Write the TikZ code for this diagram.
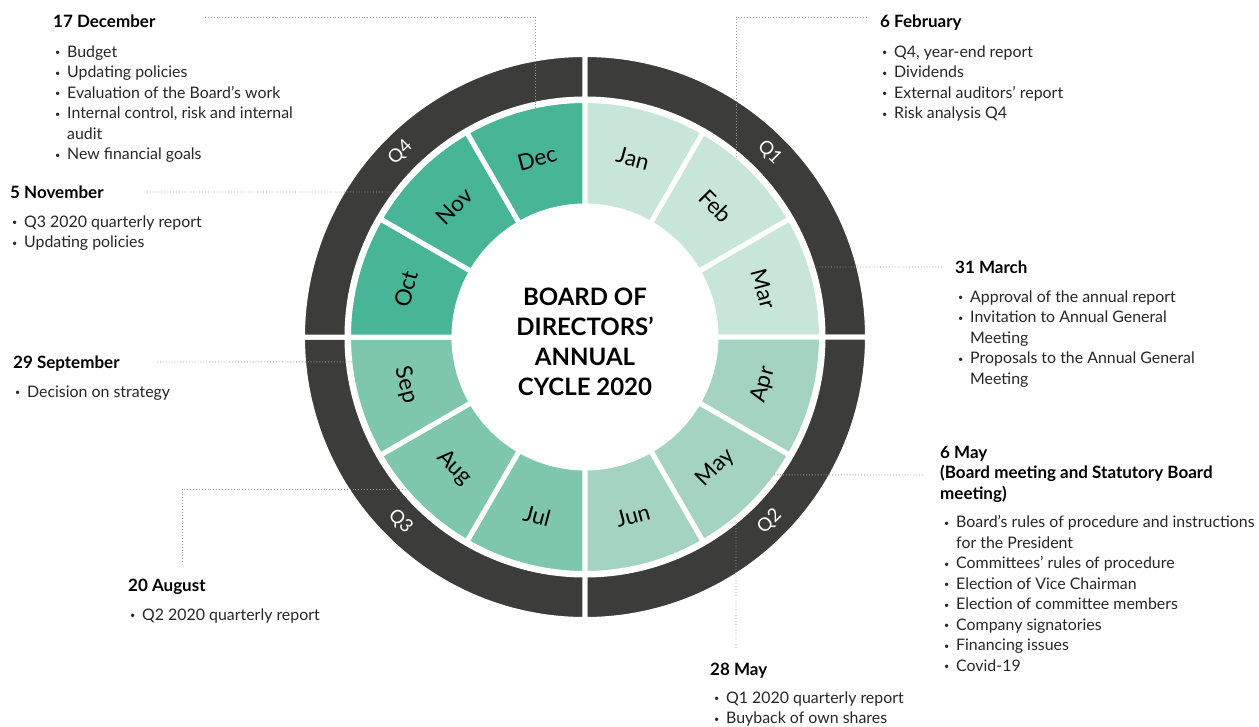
\documentclass[tikz,border=0pt]{standalone}
\usepackage{fontspec}
\setmainfont{Lato}
\usetikzlibrary{positioning}

\definecolor{ringdark}{HTML}{3C3C3B}
\definecolor{qone}{HTML}{C8E5D9}
\definecolor{qtwo}{HTML}{A4D4C1}
\definecolor{qthree}{HTML}{7EC6AC}
\definecolor{qfour}{HTML}{47B596}
\definecolor{leadgrey}{HTML}{9A9A9A}

\newcommand{\bul}{\makebox[12pt][l]{\raisebox{1.5pt}{\fontsize{9}{9}\selectfont•}}}
\newcommand{\cont}{\hspace*{12pt}}

\begin{document}
\begin{tikzpicture}[
		x=1pt, y=1pt,
		qsector/.style={fill=ringdark,draw=white,line width=5pt},
		msector/.style={fill=#1,draw=white,line width=5pt},
		mlabel/.style={font=\fontsize{22.5}{24}\selectfont},
		qlabel/.style={text=white,font=\fontsize{18.5}{20}\selectfont},
		head/.style={anchor=base west,inner sep=0pt,align=left,font=\fontsize{17}{20.5}\selectfont\bfseries},
		items/.style={inner sep=0pt,align=left,text=black!85,font=\fontsize{15.9}{20.5}\selectfont},
		leader/.style={draw=leadgrey,dotted,line width=0.9pt}]

	\useasboundingbox (-585,-389) rectangle (674,337);

	% quarter ring
	\foreach \a/\b in {90/0, 0/-90, -90/-180, 180/90}
		\path[qsector] (\a:238) arc[start angle=\a, end angle=\b, radius=238]
			-- (\b:282.5) arc[start angle=\b, end angle=\a, radius=282.5] -- cycle;

	% months
	\foreach \m/\s/\c/\r in {Jan/90/qone/-15, Feb/60/qone/-45, Mar/30/qone/-75,
			Apr/0/qtwo/75, May/-30/qtwo/45, Jun/-60/qtwo/15,
			Jul/-90/qthree/-15, Aug/-120/qthree/-45, Sep/-150/qthree/-75,
			Oct/-180/qfour/75, Nov/-210/qfour/45, Dec/-240/qfour/15}
	{
		\path[msector=\c] (\s:131) arc[start angle=\s, end angle=\s-30, radius=131]
			-- (\s-30:236.5) arc[start angle=\s-30, end angle=\s, radius=236.5] -- cycle;
		\node[mlabel, rotate=\r] (\m) at (\s-15:185) {\m};
	}

	\foreach \q/\a/\r in {Q1/45/-45, Q2/-45/45, Q3/-135/-45, Q4/135/45}
		\node[qlabel, rotate=\r] (\q) at (\a:261) {\q};

	\node[align=center,font=\fontsize{24}{30}\selectfont\bfseries] (title) at (0,-5)
		{BOARD OF\\DIRECTORS’\\ANNUAL\\CYCLE 2020};

	% meetings
	\node[head] (dechd) at (-532,309) {17 December};
	\node[items] (declist) [below right=17.5pt and 2pt of dechd.base west]
		{\bul Budget\\\bul Updating policies\\\bul Evaluation of the Board’s work\\
		 \bul Internal control, risk and internal\\\cont audit\\\bul New financial goals};

	\node[head] (novhd) at (-575,139) {5 November};
	\node[items] (novlist) [below right=17.5pt and 2pt of novhd.base west]
		{\bul Q3 2020 quarterly report\\\bul Updating policies};

	\node[head] (sephd) at (-572,-31) {29 September};
	\node[items] (seplist) [below right=17.5pt and 2pt of sephd.base west]
		{\bul Decision on strategy};

	\node[head] (aughd) at (-457,-254) {20 August};
	\node[items] (auglist) [below right=17.5pt and 2pt of aughd.base west]
		{\bul Q2 2020 quarterly report};

	\node[head] (febhd) at (295,309) {6 February};
	\node[items] (feblist) [below right=17.5pt and 2pt of febhd.base west]
		{\bul Q4, year-end report\\\bul Dividends\\\bul External auditors’ report\\\bul Risk analysis Q4};

	\node[head] (marhd) at (370,64) {31 March};
	\node[items] (marlist) [below right=17.5pt and 3pt of marhd.base west]
		{\bul Approval of the annual report\\\bul Invitation to Annual General\\\cont Meeting\\
		 \bul Proposals to the Annual General\\\cont Meeting};

	\node[head,anchor=north west] (mayhd) at (355,-109)
		{6 May\\(Board meeting and Statutory Board\\meeting)};
	\node[items] (maylist) [below right=12.5pt and 4pt of mayhd.south west]
		{\bul Board’s rules of procedure and instructions\\\cont for the President\\
		 \bul Committees’ rules of procedure\\\bul Election of Vice Chairman\\
		 \bul Election of committee members\\\bul Company signatories\\
		 \bul Financing issues\\\bul Covid-19};

	\node[head] (lmayhd) at (125,-338) {28 May};
	\node[items] (lmaylist) [below right=16.5pt and 4pt of lmayhd.base west]
		{\bul Q1 2020 quarterly report\\\bul Buyback of own shares};

	% leader lines
	\coordinate (decA) at (-380,320);  \coordinate (decpin) at (102.3:234);
	\coordinate (novA) at (-438,145);  \coordinate (novpin) at (141.7:234);
	\coordinate (sepA) at (-428,-25);  \coordinate (seppin) at (186.1:234);
	\coordinate (augA) at (-403,-225); \coordinate (augpin) at (220.5:234);
	\coordinate (febA) at (282,320);   \coordinate (febpin) at (49.8:234);
	\coordinate (marA) at (357,70);    \coordinate (marpin) at (17.4:234);
	\coordinate (mayA) at (338,-138);  \coordinate (maypin) at (-36.1:234);
	\coordinate (lmayA) at (151,-311); \coordinate (lmaypin) at (-49.8:234);

	\draw[leader] (decA) -| (decpin);
	\draw[leader] (novA) -- (novpin);
	\draw[leader] (sepA) -- (seppin);
	\draw[leader] (augA) |- (augpin);
	\draw[leader] (febA) -| (febpin);
	\draw[leader] (marA) -- (marpin);
	\draw[leader] (mayA) -- (maypin);
	\draw[leader] (lmayA) -- (lmaypin);
\end{tikzpicture}
\end{document}
